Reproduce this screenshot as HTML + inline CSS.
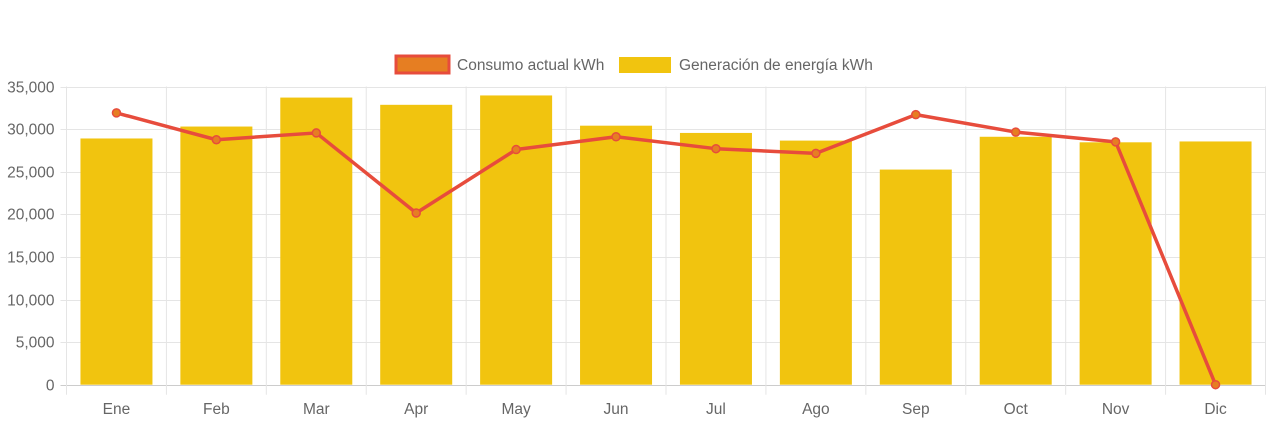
<!DOCTYPE html>
<html><head><meta charset="utf-8"><style>
body{margin:0;background:#fff;width:1272px;height:423px;overflow:hidden;font-family:"Liberation Sans",sans-serif}
svg text{font-family:"Liberation Sans",sans-serif;fill:#666;font-size:15.5px}
</style></head><body>
<svg id="c" width="1272" height="423">
<g id="legend">
<g>
<rect x="396" y="56" width="53" height="17" fill="#e67e22" stroke="#e74c3c" stroke-width="3"/>
<text x="457" y="70">Consumo actual kWh</text></g>
<g>
<rect x="619" y="57" width="52" height="16" fill="#f1c40f"/>
<text x="679" y="70">Generación de energía kWh</text></g>
</g>
</svg>
<script>
const categories=["Ene","Feb","Mar","Apr","May","Jun","Jul","Ago","Sep","Oct","Nov","Dic"];
const generacion=[28900,30300,33700,32850,33950,30400,29550,28650,25250,29100,28450,28550];
const consumo=[31900,28750,29550,20150,27600,29100,27700,27150,31700,29650,28500,0];
const yTicks=[0,5000,10000,15000,20000,25000,30000,35000];
const yLabels=["0","5,000","10,000","15,000","20,000","25,000","30,000","35,000"];
const svg=document.getElementById('c'),NS='http://www.w3.org/2000/svg';
const L=66.5,R=1265.5,T=86.5,B=384.7,yMax=35000;
const bw=(R-L)/categories.length;
const y=v=>B-(v/yMax)*(B-T);
const xc=i=>L+bw*(i+0.5);
function mk(t,a,p){const e=document.createElementNS(NS,t);for(const k in a)e.setAttribute(k,a[k]);(p||svg).appendChild(e);return e;}
const grid=mk('g',{});


yTicks.forEach((v,i)=>{
  const yy=Math.round(y(v))+0.5;
  const ln=mk('line',{x1:L-6,x2:R,y1:yy,y2:yy,stroke:i==0?'#ccc':'#e5e5e5'},grid);
  
  
  const t=mk('text',{x:L-12,y:yy+5,'text-anchor':'end'});t.textContent=yLabels[i];
  
  
});
for(let i=0;i<=categories.length;i++){
  const xx=L+bw*i;
  const ln=mk('line',{x1:xx,x2:xx,y1:T,y2:B+10,stroke:'#e5e5e5'},grid);
  
  
}
categories.forEach((c,i)=>{
  const r=mk('rect',{x:xc(i)-36,y:y(generacion[i]),width:72,height:B-y(generacion[i]),fill:'#f1c40f'});
  
  
  const t=mk('text',{x:xc(i),y:414,'text-anchor':'middle'});t.textContent=c;
  
  
});
const pl=mk('polyline',{points:consumo.map((v,i)=>xc(i)+','+y(v)).join(' '),fill:'none',stroke:'#e74c3c','stroke-width':3.5,'stroke-linejoin':'round'});


consumo.forEach((v,i)=>{
  const p=mk('circle',{cx:xc(i),cy:y(v),r:4,fill:'#e67e22',stroke:'#e74c3c','stroke-width':1.5});
  
  
});
</script>
</body></html>
